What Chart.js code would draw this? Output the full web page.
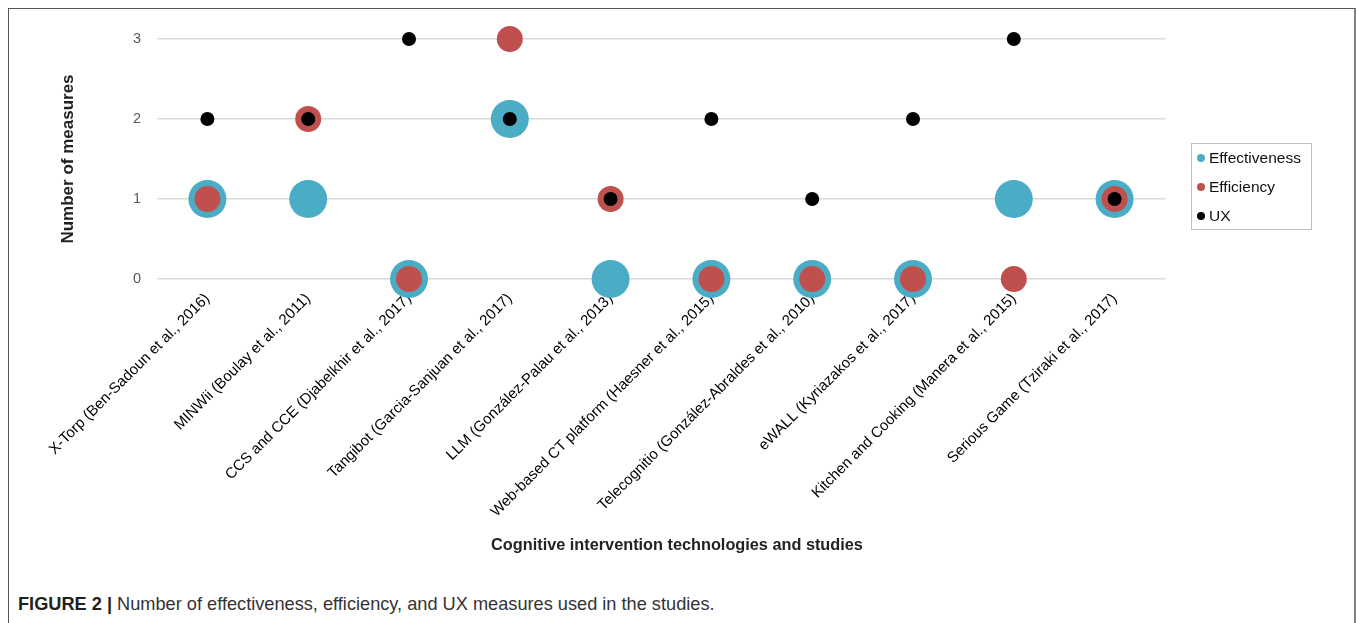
<!DOCTYPE html>
<html>
<head>
<meta charset="utf-8">
<title>Number of measures per study</title>
<script src="https://cdn.jsdelivr.net/npm/chart.js@4.4.1/dist/chart.umd.min.js"></script>
<style>
    html, body {
        margin: 0;
        padding: 0;
        background: #fff;
        font-family: 'Liberation Sans', Arial, sans-serif;
    }
    .frame {
        position: absolute;
        left: 8px;
        top: 8px;
        width: 1345px;
        height: 700px;
        border-left: 1px solid #555;
        border-top: 1px solid #555;
        border-right: 2px solid #808080;
    }
    #measuresChart {
        position: absolute;
        left: 0;
        top: 0;
    }
    .x-title {
        position: absolute;
        left: 0;
        width: 1354px;
        top: 535px;
        text-align: center;
        font-size: 16.3px;
        font-weight: bold;
        color: #222;
    }
    .legend {
        position: absolute;
        left: 1191px;
        top: 143px;
        width: 119px;
        height: 85px;
        border: 1px solid #bfbfbf;
        font-size: 15.5px;
        color: #111;
    }
    .legend-item {
        position: absolute;
        left: 5px;
        height: 20px;
        line-height: 20px;
        white-space: nowrap;
    }
    .legend-dot {
        display: inline-block;
        width: 8px;
        height: 8px;
        border-radius: 50%;
        margin-right: 4px;
        vertical-align: 1px;
    }
    .caption {
        position: absolute;
        left: 18px;
        top: 594px;
        font-size: 18.2px;
        color: #333;
        white-space: nowrap;
    }
    .caption b {
        color: #231f20;
    }
</style>
</head>
<body>
<div class="frame"></div>
<canvas id="measuresChart" width="1357" height="580"></canvas>
<div class="x-title" id="xTitle"></div>
<div class="legend" id="legend"></div>
<div class="caption"><b>FIGURE 2 |</b> Number of effectiveness, efficiency, and UX measures used in the studies.</div>

<script>
const studies = [
    'X-Torp (Ben-Sadoun et al., 2016)',
    'MINWii (Boulay et al., 2011)',
    'CCS and CCE (Djabelkhir et al., 2017)',
    'Tangibot (Garcia-Sanjuan et al., 2017)',
    'LLM (González-Palau et al., 2013)',
    'Web-based CT platform (Haesner et al., 2015)',
    'Telecognitio (González-Abraldes et al., 2010)',
    'eWALL (Kyriazakos et al., 2017)',
    'Kitchen and Cooking (Manera et al., 2015)',
    'Serious Game (Tziraki et al., 2017)'
];

const effectiveness = [1, 1, 0, 2, 0, 0, 0, 0, 1, 1];
const efficiency = [1, 2, 0, 3, 1, 0, 0, 0, 0, 1];
const ux = [2, 2, 3, 2, 1, 2, 1, 2, 3, 1];

const yTickValues = [0, 1, 2, 3];

const seriesNames = ['Effectiveness', 'Efficiency', 'UX'];
const seriesColors = ['#4bacc6', '#c0504d', '#000000'];

const xTitle = 'Cognitive intervention technologies and studies';
const yTitle = 'Number of measures';

const FONT = "'Liberation Sans', Arial, sans-serif";

function buildLegend() {
    const legend = document.getElementById('legend');
    seriesNames.forEach((name, i) => {
        const item = document.createElement('div');
        item.className = 'legend-item';
        item.style.top = (4 + i * 29) + 'px';
        item.innerHTML = `<span class="legend-dot" style="background:${seriesColors[i]}"></span>${name}`;
        legend.appendChild(item);
    });
}

function makeDataset(label, values, color, radius, order) {
    return {
        label: label,
        data: values,
        backgroundColor: color,
        borderColor: color,
        borderWidth: 0,
        pointRadius: radius,
        pointHoverRadius: radius,
        showLine: false,
        clip: false,
        order: order
    };
}

const ctx = document.getElementById('measuresChart');
new Chart(ctx.getContext('2d'), {
    type: 'line',
    data: {
        labels: studies,
        datasets: [
            // lower order is drawn on top
            makeDataset(seriesNames[0], effectiveness, seriesColors[0], 19, 3),
            makeDataset(seriesNames[1], efficiency, seriesColors[1], 13, 2),
            makeDataset(seriesNames[2], ux, seriesColors[2], 7, 1)
        ]
    },
    options: {
        responsive: false,
        animation: false,
        layout: {
            padding: { top: 39, right: 192, bottom: 0, left: 0 }
        },
        plugins: {
            legend: { display: false },
            tooltip: { enabled: false }
        },
        scales: {
            x: {
                type: 'category',
                offset: true,
                grid: { display: false },
                border: { display: false },
                ticks: {
                    autoSkip: false,
                    minRotation: 45,
                    maxRotation: 45,
                    padding: 3,
                    color: '#000',
                    font: { family: FONT, size: 15 }
                },
                afterFit: (scale) => { scale.height = 301; }
            },
            y: {
                min: 0,
                max: 3,
                grid: {
                    color: '#d9d9d9',
                    lineWidth: 1.5,
                    drawTicks: false
                },
                border: { display: false },
                afterBuildTicks: (scale) => {
                    scale.ticks = yTickValues.map(v => ({ value: v }));
                },
                ticks: {
                    padding: 16,
                    color: '#595959',
                    font: { family: FONT, size: 14.5 }
                },
                title: {
                    display: true,
                    text: yTitle,
                    color: '#222',
                    font: { family: FONT, size: 17, weight: 'bold' },
                    padding: { top: 58, bottom: 0 }
                },
                afterFit: (scale) => { scale.width = 157; }
            }
        }
    }
});

document.getElementById('xTitle').textContent = xTitle;
buildLegend();
</script>
</body>
</html>
